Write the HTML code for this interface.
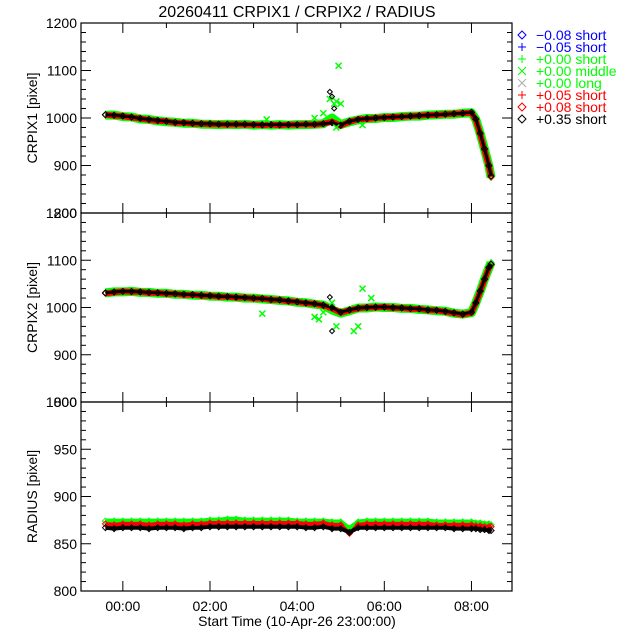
<!DOCTYPE html>
<html><head><meta charset="utf-8"><style>
html,body{margin:0;padding:0;background:#fff}
svg{display:block;font-family:"Liberation Sans",sans-serif}
</style></head><body>
<svg id="chart" width="640" height="640" viewBox="0 0 640 640"></svg>
<script>
const times=[-0.4,-0.2,0,0.2,0.4,0.6,0.8,1.0,1.2,1.4,1.6,1.8,2.0,2.2,2.4,2.6,2.8,3.0,3.2,3.4,3.6,3.8,4.0,4.2,4.4,4.6,4.8,5.0,5.2,5.4,5.6,5.8,6.0,6.2,6.4,6.6,6.8,7.0,7.2,7.4,7.6,7.8,8.0,8.1,8.2,8.3,8.4,8.45];
const crpix1Black=[1007,1006,1004,1002,999,997,995,993,991,990,989,988,988,987,987,987,987,986,986,986,986,986,986,987,987,988,990,985,993,997,999,1000,1001,1002,1003,1004,1005,1006,1007,1008,1009,1010,1012,998,968,935,900,878];
const crpix1Red=[1007,1005,1004,1001,999,996,994,993,990,990,988,988,987,987,986,987,986,986,985,986,985,986,986,987,986,988,992,984,992,997,998,1000,1001,1002,1003,1004,1005,1006,1007,1008,1009,1010,1011,996,966,933,898,876];
const crpix1Green=[1006,1006,1003,1002,998,997,994,992,991,989,989,987,987,986,987,986,987,985,986,985,986,985,986,986,987,988,1000,986,992,996,999,999,1001,1001,1003,1004,1004,1006,1007,1008,1008,1010,1011,997,967,934,899,875];
const crpix2Black=[1031,1033,1034,1034,1033,1032,1031,1030,1029,1028,1027,1026,1025,1024,1023,1022,1021,1020,1019,1017,1016,1014,1012,1010,1008,1005,1000,990,995,999,1000,1001,1001,1000,999,998,997,995,994,992,989,986,990,1010,1035,1060,1085,1092];
const crpix2Red=[1030,1032,1034,1033,1033,1031,1031,1029,1029,1027,1027,1025,1025,1023,1023,1021,1021,1019,1019,1016,1016,1013,1012,1009,1008,1004,998,989,994,998,1000,1000,1001,999,999,997,997,994,994,991,988,985,989,1009,1034,1059,1084,1091];
const crpix2Green=[1031,1033,1033,1034,1032,1032,1030,1030,1028,1028,1026,1026,1024,1024,1022,1022,1020,1020,1018,1017,1015,1014,1011,1010,1007,1005,995,988,993,999,999,1001,1000,1000,998,998,996,995,993,992,988,986,989,1010,1034,1060,1084,1095];
const radiusBlack=[867,866,867,867,867,866,867,867,867,866,867,867,868,868,868,868,868,868,868,868,868,868,868,867,867,868,866,866,862,867,867,867,867,867,867,867,867,867,867,867,866,866,866,866,865,865,864,864];
const radiusRed=[871,870,871,871,871,870,871,871,871,870,871,871,872,872,872,872,872,872,872,872,872,872,872,871,871,872,870,870,861,870,871,871,871,871,871,871,871,871,870,870,870,870,870,869,869,868,868,868];
const radiusGreen=[874,874,874,874,874,874,874,874,874,874,874,874,875,875,876,876,875,875,875,875,875,875,874,874,874,874,873,873,866,873,874,874,874,874,874,874,874,874,873,873,873,873,873,872,872,871,871,870];
const out1T=[3.3,4.4,4.6,4.75,4.85,4.9,4.95,5.0,5.5,4.9];
const out1V=[997,1000,1010,1040,1030,1035,1110,1030,985,980];
const out1BT=[4.75,4.8,4.85];
const out1BV=[1055,1045,1020];
const out2T=[3.2,4.4,4.5,4.6,4.8,4.9,5.3,5.4,5.5,5.7];
const out2V=[987,980,975,990,1010,960,950,960,1040,1020];
const out2BT=[4.75,4.8];
const out2BV=[1022,950];
const xTickLabels=["00:00","02:00","04:00","06:00","08:00"];
const xTickVals=[0,2,4,6,8];

const svg=document.getElementById('chart');
const NS='http://www.w3.org/2000/svg';
function el(tag,attrs,parent){const e=document.createElementNS(NS,tag);for(const k in attrs)e.setAttribute(k,attrs[k]);(parent||svg).appendChild(e);return e;}
const L=81,R=512,X0=-0.96,X1=8.93;
const xs=t=>L+(t-X0)/(X1-X0)*(R-L);
const panels=[
 {top:23,bot:213,min:800,max:1200,major:100,minor:20,label:"CRPIX1 [pixel]",name:"crpix1",
  series:[[crpix1Green,'#00ff00',9],[crpix1Red,'#ff0000',6],[crpix1Black,'#000000',3]],ot:out1T,ov:out1V,obt:out1BT,obv:out1BV},
 {top:213,bot:402,min:800,max:1200,major:100,minor:20,label:"CRPIX2 [pixel]",name:"crpix2",
  series:[[crpix2Green,'#00ff00',9],[crpix2Red,'#ff0000',6],[crpix2Black,'#000000',3]],ot:out2T,ov:out2V,obt:out2BT,obv:out2BV},
 {top:402,bot:591,min:800,max:1000,major:50,minor:10,label:"RADIUS [pixel]",name:"radius",
  series:[[radiusGreen,'#00ff00',5],[radiusRed,'#ff0000',4],[radiusBlack,'#000000',4]],ot:[],ov:[],obt:[],obv:[]}
];
panels.forEach((p,pi)=>{
 const ys=v=>p.bot-(v-p.min)/(p.max-p.min)*(p.bot-p.top);
 const g=el('g',{});
 
 
 p.series.forEach(([arr,col,w],si)=>{
  const pts=times.map((t,i)=>xs(t).toFixed(1)+','+ys(arr[i]).toFixed(1)).join(' ');
  const pl=el('polyline',{points:pts,fill:'none',stroke:col,'stroke-width':w,'stroke-linejoin':'round'},g);
  
  
  times.forEach((t,i)=>{
   const x=xs(t),y=ys(arr[i]);
   const m=el('path',{d:`M${x-3},${y}L${x},${y-3}L${x+3},${y}L${x},${y+3}Z`,fill:'none',stroke:si==0?'#00ff00':(si==1?'#ff0000':'#000'),'stroke-width':1},g);
   
   
  });
 });
 p.ot.forEach((t,i)=>{
  const x=xs(t),y=ys(p.ov[i]);
  const m=el('path',{d:`M${x-3},${y-3}L${x+3},${y+3}M${x-3},${y+3}L${x+3},${y-3}`,stroke:'#00ff00','stroke-width':1.5},g);
  
  
 });
 p.obt.forEach((t,i)=>{
  const x=xs(t),y=ys(p.obv[i]);
  const m=el('path',{d:`M${x-2.5},${y}L${x},${y-2.5}L${x+2.5},${y}L${x},${y+2.5}Z`,fill:'none',stroke:'#000','stroke-width':1},g);
  
  
 });
 const fr=el('rect',{x:L,y:p.top,width:R-L,height:p.bot-p.top,fill:'none',stroke:'#000','stroke-width':1.2},g);
 
 
 for(let v=p.min;v<=p.max+0.01;v+=p.minor){
  const y=ys(v),len=(Math.round(v-p.min)%p.major===0)?10:5;
  el('line',{x1:L,y1:y,x2:L+len,y2:y,stroke:'#000'},g);
  el('line',{x1:R,y1:y,x2:R-len,y2:y,stroke:'#000'},g);
 }
 for(let v=p.min;v<=p.max+0.01;v+=p.major){
  const tx=el('text',{x:L-4,y:ys(v)+5,'text-anchor':'end','font-size':14},g);
  tx.textContent=v;
  
  
 }
 for(let h=-0;h<=8;h++){
  const x=xs(h),len=h%2===0?10:5;
  el('line',{x1:x,y1:p.bot,x2:x,y2:p.bot-len,stroke:'#000'},g);
  el('line',{x1:x,y1:p.top,x2:x,y2:p.top+len,stroke:'#000'},g);
 }
 const yl=el('text',{x:0,y:0,'text-anchor':'middle','font-size':14,transform:`translate(37,${(p.top+p.bot)/2}) rotate(-90)`},g);
 yl.textContent=p.label;
 
 
});
xTickVals.forEach((h,i)=>{
 const t=el('text',{x:xs(h),y:611,'text-anchor':'middle','font-size':14});
 t.textContent=xTickLabels[i];
 
 
});
const xt=el('text',{x:297,y:626,'text-anchor':'middle','font-size':14});
xt.textContent="Start Time (10-Apr-26 23:00:00)";


const ti=el('text',{x:297,y:17,'text-anchor':'middle','font-size':16});
ti.textContent="20260411 CRPIX1 / CRPIX2 / RADIUS";


const legSym=['d','+','+','x','x','+','d','d'];
const legCol=['#0000ff','#0000ff','#00ff00','#00ff00','#00ff00','#ff0000','#ff0000','#000000'];
const legTxt=['\u22120.08 short','\u22120.05 short','+0.00 short','+0.00 middle','+0.00 long','+0.05 short','+0.08 short','+0.35 short'];
const lg=el('g',{});


legTxt.forEach((s,i)=>{
 const y=35+i*12,x=522,c=legCol[i];
 let d;
 if(legSym[i]=='d')d=`M${x-4},${y}L${x},${y-4}L${x+4},${y}L${x},${y+4}Z`;
 else if(legSym[i]=='+')d=`M${x-4},${y}L${x+4},${y}M${x},${y-4}L${x},${y+4}`;
 else d=`M${x-4},${y-4}L${x+4},${y+4}M${x-4},${y+4}L${x+4},${y-4}`;
 const sy=el('path',{d:d,fill:'none',stroke:i==4?'#aaaaaa':c,'stroke-width':1},lg);
 
 
 const t=el('text',{x:536,y:y+5,'font-size':14,fill:c},lg);
 t.textContent=s;
 
 
});
</script>
</body></html>
